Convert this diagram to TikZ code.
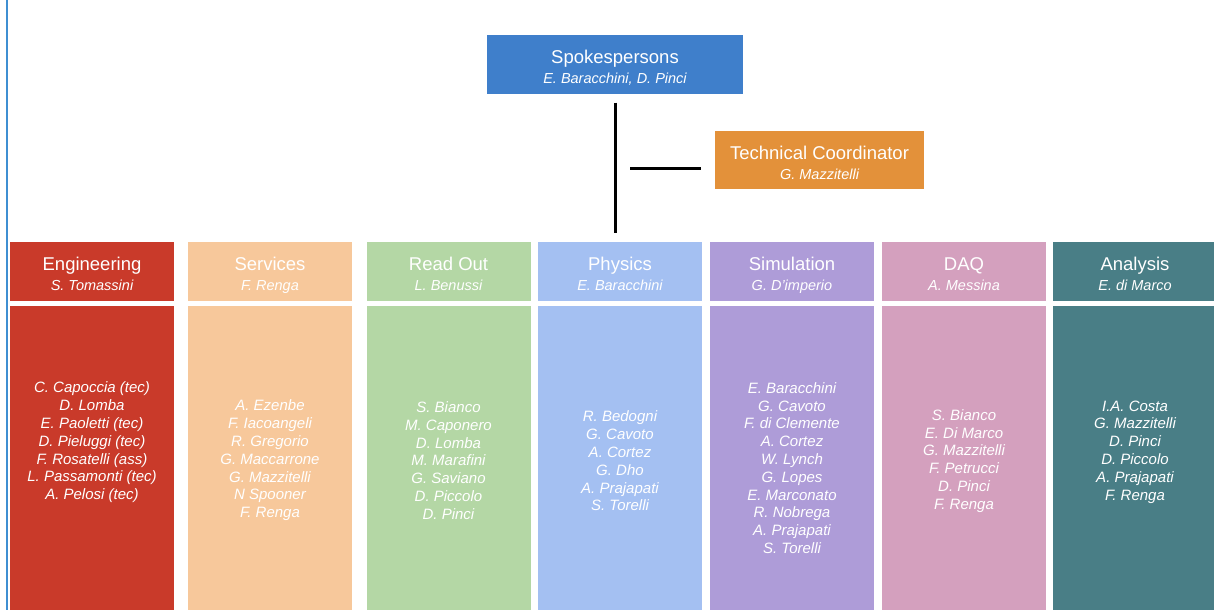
\documentclass[tikz,border=0pt]{standalone}
\usepackage{fontspec}
\setmainfont{Liberation Sans}
\definecolor{cSpk}{HTML}{3F7FCB}
\definecolor{cTC}{HTML}{E3913A}
\definecolor{cEng}{HTML}{C93A2A}
\definecolor{cSer}{HTML}{F7C89B}
\definecolor{cRO}{HTML}{B4D7A5}
\definecolor{cPhy}{HTML}{A4C0F2}
\definecolor{cSim}{HTML}{AE9CD8}
\definecolor{cDAQ}{HTML}{D4A0BE}
\definecolor{cAna}{HTML}{497E86}
\definecolor{cEdge}{HTML}{3F8FD2}
\newcommand{\hdr}[2]{{\fontsize{18.5}{20}\selectfont\rule{0pt}{24pt}#1\rule[-6pt]{0pt}{6pt}}\\{\itshape\rule{0pt}{14pt}#2\rule[-6pt]{0pt}{6pt}}}
\begin{document}
\begin{tikzpicture}[x=1pt,y=-1pt,
  box/.style={rectangle, inner sep=0pt, outer sep=0pt, text=white, align=center,
    font=\fontsize{14.5}{20}\selectfont},
  head/.style={box, minimum width=164pt, minimum height=59pt},
  body/.style={box, minimum width=164pt, minimum height=304pt},
  names/.style={text=white, align=center, inner sep=0pt,
    font=\fontsize{15}{17.8}\selectfont\itshape},
  conn/.style={draw=black, line width=3pt}]
\useasboundingbox (0,0) rectangle (1214,610);
\fill[white] (0,0) rectangle (1214,610);
\draw[cEdge, line width=1.2pt] (7,0) -- (7,610);

% top nodes
\node[box, fill=cSpk, minimum width=256pt, minimum height=59pt] (spk) at (615,64.5)
  {\hdr{Spokespersons}{E. Baracchini, D. Pinci}};
\node[box, fill=cTC, minimum width=209pt, minimum height=58pt] (tc) at (819.5,160)
  {\hdr{Technical Coordinator}{G. Mazzitelli}};

% headers
\node[head, fill=cEng] (engh) at (92,271.5) {\hdr{Engineering}{S. Tomassini}};
\node[head, fill=cSer] (serh) at (270,271.5) {\hdr{Services}{F. Renga}};
\node[head, fill=cRO]  (roh)  at (448.5,271.5) {\hdr{Read Out}{L. Benussi}};
\node[head, fill=cPhy] (phyh) at (620,271.5) {\hdr{Physics}{E. Baracchini}};
\node[head, fill=cSim] (simh) at (792,271.5) {\hdr{Simulation}{G. D'imperio}};
\node[head, fill=cDAQ] (daqh) at (964,271.5) {\hdr{DAQ}{A. Messina}};
\node[head, fill=cAna] (anah) at (1135,271.5) {\hdr{Analysis}{E. di Marco}};

% bodies
\node[body, fill=cEng] (engb) at (92,458) {};
\node[body, fill=cSer] (serb) at (270,458) {};
\node[body, fill=cRO]  (rob)  at (448.5,458) {};
\node[body, fill=cPhy] (phyb) at (620,458) {};
\node[body, fill=cSim] (simb) at (792,458) {};
\node[body, fill=cDAQ] (daqb) at (964,458) {};
\node[body, fill=cAna] (anab) at (1135,458) {};

% member lists
\node[names] (engt) at (92,442.5) {C. Capoccia (tec)\\D. Lomba\\E. Paoletti (tec)\\D. Pieluggi (tec)\\F. Rosatelli (ass)\\L. Passamonti (tec)\\A. Pelosi (tec)};
\node[names] (sert) at (270,460.5) {A. Ezenbe\\F. Iacoangeli\\R. Gregorio\\G. Maccarrone\\G. Mazzitelli\\N Spooner\\F. Renga};
\node[names] (rot) at (448.5,460.5) {S. Bianco\\M. Caponero\\D. Lomba\\M. Marafini\\G. Saviano\\D. Piccolo\\D. Pinci};
\node[names] (phyt) at (620,461) {R. Bedogni\\G. Cavoto\\A. Cortez\\G. Dho\\A. Prajapati\\S. Torelli};
\node[names] (simt) at (792,468) {E. Baracchini\\G. Cavoto\\F. di Clemente\\A. Cortez\\W. Lynch\\G. Lopes\\E. Marconato\\R. Nobrega\\A. Prajapati\\S. Torelli};
\node[names] (daqt) at (964,461) {S. Bianco\\E. Di Marco\\G. Mazzitelli\\F. Petrucci\\D. Pinci\\F. Renga};
\node[names] (anat) at (1135,452) {I.A. Costa\\G. Mazzitelli\\D. Pinci\\D. Piccolo\\A. Prajapati\\F. Renga};

% connectors
\coordinate (vtop) at ([yshift=-8.5pt]spk.south);
\coordinate (vbot) at (vtop |- 0,233);
\draw[conn] (vtop) -- (vbot);
\coordinate (hr) at ([xshift=-14pt,yshift=-8pt]tc.west);
\coordinate (hl) at ([xshift=-71pt]hr);
\draw[conn] (hl) -- (hr);
\end{tikzpicture}
\end{document}
